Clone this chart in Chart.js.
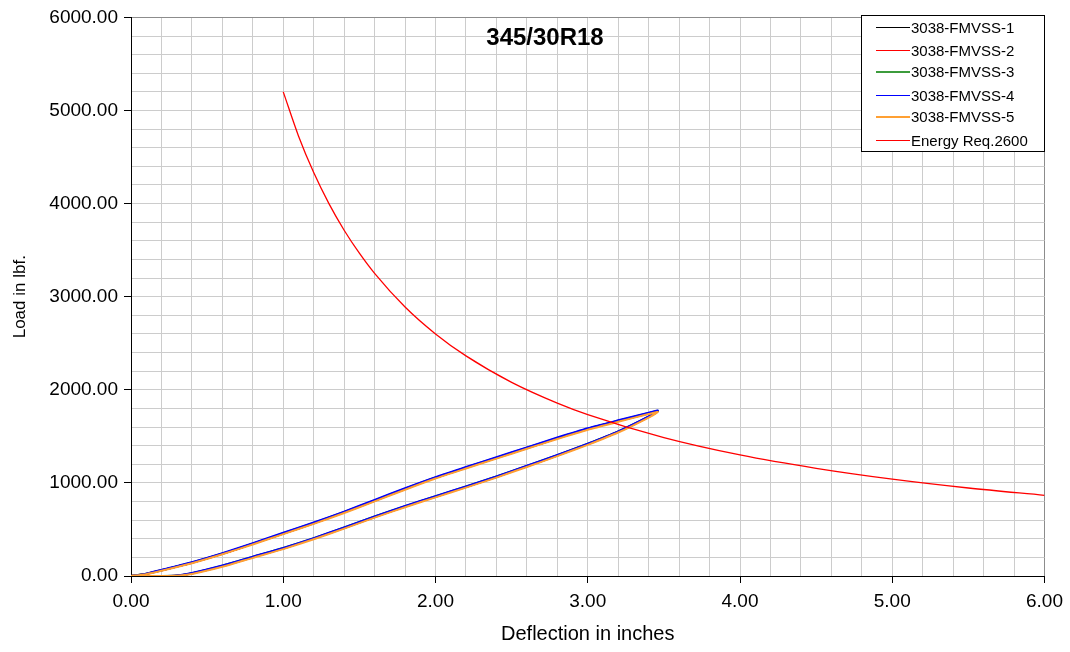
<!DOCTYPE html>
<html>
<head>
<meta charset="utf-8">
<title>345/30R18</title>
<script src="https://cdn.jsdelivr.net/npm/chart.js@4"></script>
<style>
  body { margin: 0; background: #fff; }
  canvas { display: block; }
</style>
</head>
<body>
<canvas id="chart" width="1070" height="652"></canvas>
<script>
// series names
const seriesNames = ['3038-FMVSS-1', '3038-FMVSS-2', '3038-FMVSS-3', '3038-FMVSS-4', '3038-FMVSS-5', 'Energy Req.2600'];

// deflection (in) along the load / unload loop, shared by the five runs
const loopDeflection = [0, 0.1, 0.2, 0.4, 0.6, 0.8, 1.0, 1.2, 1.4, 1.6, 1.8, 2.0, 2.2, 2.4, 2.6, 2.8, 3.0, 3.2, 3.4, 3.46,
                        3.4, 3.2, 3.0, 2.8, 2.6, 2.4, 2.2, 2.0, 1.8, 1.6, 1.4, 1.2, 1.0, 0.8, 0.6, 0.4, 0.3, 0.2, 0.1, 0];

// load (lbf) for each run
const run1Load = [0, 22, 60, 142, 238, 345, 456, 566, 684, 808, 934, 1054, 1162, 1268, 1372, 1478, 1578, 1664, 1746, 1770,
                  1708, 1548, 1416, 1294, 1178, 1064, 956, 852, 746, 634, 516, 401, 296, 202, 106, 27, 4, 0, 0, 0];
const run2Load = [0, 23, 61, 143, 239, 346, 457, 567, 685, 809, 935, 1055, 1163, 1269, 1374, 1479, 1579, 1665, 1747, 1771,
                  1709, 1549, 1417, 1295, 1179, 1065, 957, 853, 747, 635, 517, 402, 297, 203, 107, 28, 4, 0, 0, 0];
const run3Load = [0, 24, 63, 145, 241, 348, 460, 570, 688, 812, 938, 1058, 1166, 1272, 1377, 1482, 1582, 1668, 1750, 1774,
                  1712, 1553, 1421, 1299, 1183, 1069, 961, 857, 751, 639, 521, 406, 301, 207, 111, 31, 5, 0, 0, 0];
const run4Load = [0, 25, 66, 148, 245, 352, 464, 574, 692, 817, 943, 1062, 1170, 1277, 1382, 1487, 1587, 1672, 1754, 1777,
                  1714, 1554, 1422, 1300, 1184, 1070, 962, 858, 752, 640, 522, 407, 302, 208, 112, 32, 6, 0, 0, 0];
const run5Load = [0, 20, 56, 137, 233, 339, 450, 560, 677, 801, 927, 1047, 1155, 1261, 1366, 1471, 1571, 1657, 1740, 1762,
                  1702, 1541, 1409, 1287, 1171, 1057, 949, 845, 739, 627, 509, 394, 289, 195, 99, 22, 2, 0, 0, 0];

// energy requirement curve
const energyDeflection = [1.0, 1.1, 1.2, 1.3, 1.4, 1.5, 1.6, 1.8, 2.0, 2.2, 2.5, 2.8, 3.0, 3.5, 4.0, 4.5, 5.0, 5.5, 6.0];
const energyLoad = [5200, 4727, 4333, 4000, 3714, 3467, 3250, 2889, 2600, 2364, 2080, 1857, 1733, 1486, 1300, 1156, 1040, 945, 867];

// axis grid steps and labelled ticks
const xGridStep = 0.2;
const xMax = 6;
const yGridStep = 200;
const yMax = 6000;
const xLabelStep = 1;
const yLabelStep = 1000;

const seriesColors = ['#000000', '#ff0000', '#3c9c3c', '#0000ff', '#ffa033', '#ff0000'];
const fontFamily = '"Liberation Sans", Arial, sans-serif';

function toPoints(xs, ys) {
    return xs.map((x, i) => ({ x: x, y: ys[i] }));
}

function gridTicks(step, max) {
    const ticks = [];
    const n = Math.round(max / step);
    for (let i = 0; i <= n; i++) ticks.push({ value: +(i * step).toFixed(4) });
    return ticks;
}

function isWhole(v, step) {
    return Math.abs(v / step - Math.round(v / step)) < 1e-6;
}

const runLoads = [run1Load, run2Load, run3Load, run4Load, run5Load];
const datasets = runLoads.map((loads, i) => ({
    label: seriesNames[i],
    data: toPoints(loopDeflection, loads),
    borderColor: seriesColors[i],
    borderWidth: 2,
    pointRadius: 0,
    tension: 0.2,
    fill: false,
    order: 6 - i
}));
datasets.push({
    label: seriesNames[5],
    data: toPoints(energyDeflection, energyLoad),
    borderColor: seriesColors[5],
    borderWidth: 1.3,
    pointRadius: 0,
    cubicInterpolationMode: 'monotone',
    fill: false,
    order: 0
});

// legend box and chart title drawn inside the plot area
const overlayPlugin = {
    id: 'overlay',
    afterDraw(chart) {
        const ctx = chart.ctx;
        ctx.save();
        ctx.fillStyle = '#000';
        ctx.font = 'bold 24px ' + fontFamily;
        ctx.textAlign = 'center';
        ctx.textBaseline = 'middle';
        ctx.fillText('345/30R18', 545, 38);

        const bx = 861.5, by = 15.5, bw = 183, bh = 136;
        ctx.fillStyle = '#fff';
        ctx.fillRect(bx, by, bw, bh);
        ctx.strokeStyle = '#000';
        ctx.lineWidth = 1;
        ctx.strokeRect(bx, by, bw, bh);

        ctx.font = '15px ' + fontFamily;
        ctx.textAlign = 'left';
        chart.data.datasets.forEach((ds, i) => {
            const thick = (i === 2 || i === 4);
            const y = Math.round(27 + i * 22.5) + (thick ? 0 : 0.5);
            ctx.strokeStyle = ds.borderColor;
            ctx.lineWidth = thick ? 2 : 1.2;
            ctx.beginPath();
            ctx.moveTo(876, y);
            ctx.lineTo(910, y);
            ctx.stroke();
            ctx.fillStyle = '#000';
            ctx.fillText(ds.label, 911, y + 1);
        });
        ctx.restore();
    }
};

const ctx = document.getElementById('chart').getContext('2d');
new Chart(ctx, {
    type: 'line',
    data: { datasets: datasets },
    options: {
        responsive: false,
        animation: false,
        layout: { padding: { left: 0, right: 25, top: 15, bottom: 0 } },
        plugins: {
            legend: { display: false },
            tooltip: { enabled: false }
        },
        scales: {
            x: {
                type: 'linear',
                min: 0,
                max: xMax,
                afterFit: s => { s.height = 76; },
                afterBuildTicks: s => { s.ticks = gridTicks(xGridStep, xMax); },
                ticks: {
                    autoSkip: false,
                    maxRotation: 0,
                    padding: 7,
                    color: '#000',
                    font: { family: fontFamily, size: 19 },
                    callback: v => isWhole(v, xLabelStep) ? v.toFixed(2) : ''
                },
                grid: {
                    lineWidth: 1,
                    tickLength: 7,
                    color: c => (c.tick && Math.abs(c.tick.value - xMax) < 1e-6) ? '#8c8c8c' : '#cccccc',
                    tickColor: c => (c.tick && isWhole(c.tick.value, xLabelStep)) ? '#000' : 'rgba(0,0,0,0)'
                },
                border: { color: '#000', width: 1 },
                title: {
                    display: true,
                    text: 'Deflection in inches',
                    color: '#000',
                    font: { family: fontFamily, size: 20 },
                    padding: { top: 0, bottom: 6 }
                }
            },
            y: {
                min: 0,
                max: yMax,
                afterFit: s => { s.width = 131; },
                afterBuildTicks: s => { s.ticks = gridTicks(yGridStep, yMax); },
                ticks: {
                    autoSkip: false,
                    padding: 6,
                    color: '#000',
                    font: { family: fontFamily, size: 19 },
                    callback: v => isWhole(v, yLabelStep) ? v.toFixed(2) : ''
                },
                grid: {
                    lineWidth: 1,
                    tickLength: 7,
                    color: c => (c.tick && c.tick.value === yMax) ? '#8c8c8c' : '#cccccc',
                    tickColor: c => (c.tick && isWhole(c.tick.value, yLabelStep)) ? '#000' : 'rgba(0,0,0,0)'
                },
                border: { color: '#000', width: 1 },
                title: {
                    display: true,
                    text: 'Load in lbf.',
                    color: '#000',
                    font: { family: fontFamily, size: 17 },
                    padding: { top: 10, bottom: 0 }
                }
            }
        }
    },
    plugins: [overlayPlugin]
});
</script>
</body>
</html>
